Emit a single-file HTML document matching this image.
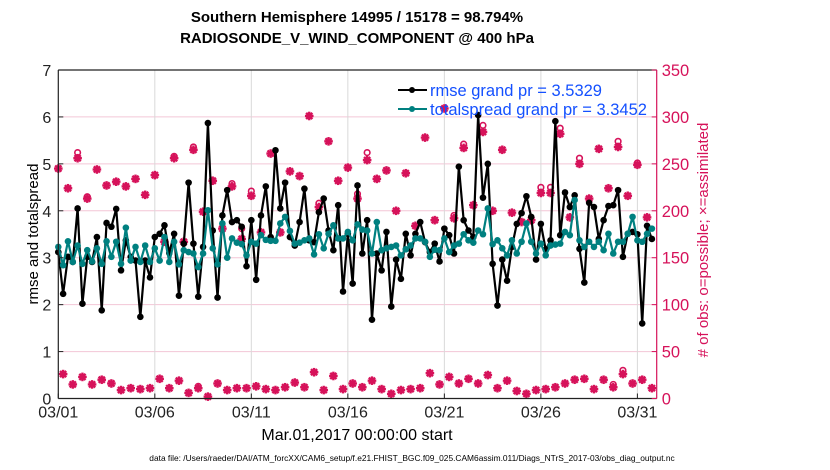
<!DOCTYPE html>
<html><head><meta charset="utf-8">
<style>
body{margin:0;background:#fff;width:830px;height:470px;overflow:hidden;font-family:"Liberation Sans",Arial,sans-serif}
svg{display:block}
</style></head>
<body>
<svg id="chart" width="830" height="470" xmlns="http://www.w3.org/2000/svg">
<rect x="0" y="0" width="830" height="470" fill="#fff"/>
<text x="357" y="22" text-anchor="middle" font-size="15" font-weight="bold">Southern Hemisphere 14995 / 15178 = 98.794%</text>
<text x="357" y="43" text-anchor="middle" font-size="15" font-weight="bold">RADIOSONDE_V_WIND_COMPONENT @ 400 hPa</text>
<g id="grid"></g>
<g id="obs"></g>
<g id="lines"></g>
<g id="axes"></g>
<g>
<line x1="398" y1="90" x2="427" y2="90" stroke="#000" stroke-width="2"/>
<circle cx="412" cy="90" r="3" fill="#000"/>
<text x="430" y="96" font-size="16.5" fill="#1450ff">rmse grand pr = 3.5329</text>
<line x1="398" y1="109" x2="427" y2="109" stroke="#008080" stroke-width="2"/>
<circle cx="412" cy="109" r="3" fill="#008080"/>
<text x="430" y="115" font-size="16.5" fill="#1450ff">totalspread grand pr = 3.3452</text>
</g>
<text transform="translate(38,234) rotate(-90)" text-anchor="middle" font-size="15">rmse and totalspread</text>
<text transform="translate(708,240) rotate(-90)" text-anchor="middle" font-size="15" fill="#d6125a"># of obs: o=possible; ×=assimilated</text>
<text x="357" y="440" text-anchor="middle" font-size="16">Mar.01,2017 00:00:00 start</text>
<text x="412" y="461" text-anchor="middle" font-size="8.4">data file: /Users/raeder/DAI/ATM_forcXX/CAM6_setup/f.e21.FHIST_BGC.f09_025.CAM6assim.011/Diags_NTrS_2017-03/obs_diag_output.nc</text>
</svg>
<script>
const rmse=[3.12,2.23,3.02,2.91,4.05,2.02,3.02,2.91,3.44,1.88,3.74,3.66,4.04,2.73,3.37,3.02,2.94,1.74,2.94,2.58,3.44,3.51,3.69,3.1,3.51,2.19,3.30,4.6,3.30,2.17,3.23,5.87,3.58,2.15,3.90,4.44,3.76,3.80,3.66,2.82,3.80,2.53,3.90,4.52,3.44,5.29,4.05,4.60,3.44,3.26,3.76,4.47,3.37,3.33,3.97,4.26,3.58,3.16,4.12,2.28,3.51,2.45,4.54,3.09,3.80,1.68,3.09,2.73,3.55,1.96,2.96,2.55,3.51,3.05,3.51,3.76,3.33,3.12,3.30,2.92,3.62,3.48,3.09,4.94,3.80,3.58,3.44,6.04,4.28,5.0,2.87,1.98,2.96,2.51,3.23,3.72,3.95,4.31,3.87,2.96,3.72,3.17,3.37,5.91,3.48,4.39,4.08,4.33,3.19,2.47,4.17,4.08,3.40,3.80,4.10,4.12,4.44,3.02,3.51,3.55,3.5,1.6,3.68,3.40];
const spread=[3.23,2.84,3.35,2.91,3.26,2.87,3.16,2.92,3.20,2.87,3.35,3.02,3.34,2.87,3.64,2.94,3.23,2.91,3.26,2.91,3.20,2.94,3.44,2.91,3.34,2.86,3.16,3.12,3.09,2.80,3.09,4.01,3.20,2.86,3.73,3.0,3.41,3.32,3.29,3.05,3.34,3.30,3.48,3.38,3.36,3.36,3.73,3.87,3.57,3.30,3.32,3.37,3.41,3.07,3.50,3.20,3.51,3.69,3.41,3.41,3.55,3.37,3.71,3.6,3.58,3.09,3.76,3.16,3.20,3.23,3.26,3.05,3.18,3.26,3.41,3.41,3.34,3.02,3.17,3.16,3.41,3.12,3.26,3.30,3.50,3.37,3.32,3.58,3.50,4.05,3.29,3.37,3.20,3.05,3.37,3.09,3.34,3.73,3.34,3.09,3.30,3.05,3.26,3.28,3.30,3.55,3.48,4.23,3.37,3.23,3.34,3.23,3.34,3.16,3.51,3.09,3.34,3.34,3.51,3.87,3.37,3.34,3.51,3.62];
// obs counts at 00Z/12Z (even 6-hourly index) and 06Z/18Z (odd index)
const assimHigh=[245,224,256,213,244,227,231,226,234,217,238,167,256,167,265,199,232,181,226,170,216,177,261,177,242,237,301,204,274,232,246,213,254,234,243,200,240,184,278,190,309,192,267,206,284,200,265,198,188,190,219,219,282,193,250,213,266,224,268,216,249,193];
const possHigh=[245,224,262,215,244,227,231,226,234,217,238,167,258,167,268,199,232,181,229,181,221,177,261,177,242,237,301,208,274,232,246,218,262,234,243,200,240,184,278,190,309,195,271,206,291,200,265,198,188,190,225,225,288,193,256,213,266,224,274,216,251,193];
const assimLow=[26,15,23,15,20,16,9,11,10,11,21,11,19,6,11,2,16,9,11,11,13,10,9,12,17,12,28,9,24,10,16,12,19,10,5,9,10,11,27,15,23,16,21,16,25,11,19,8,5,9,10,12,16,20,21,10,20,12,26,16,20,11];
const possLow=[26,15,23,15,20,16,9,11,10,11,21,11,19,6,13,2,16,9,11,11,13,10,9,12,17,12,28,9,24,10,16,12,19,10,5,9,10,11,27,15,23,16,21,16,25,11,19,8,5,9,10,12,16,20,21,10,20,15,30,16,20,11];
const xTickLabels=["03/01","03/06","03/11","03/16","03/21","03/26","03/31"];
const xTickDays=[0,5,10,15,20,25,30];
const yTickLeft=[0,1,2,3,4,5,6,7];
const yTickRight=[0,50,100,150,200,250,300,350];

const X0=58.3,X1=656.7,Y0=398.5,Y1=70;
const DAYS=31;
const xDay=d=>X0+(X1-X0)*d/DAYS;
const xIdx=i=>xDay(i*0.25);
const yL=v=>Y0-(Y0-Y1)*v/7;
const yR=v=>Y0-(Y0-Y1)*v/350;
const NS="http://www.w3.org/2000/svg";
function mk(tag,attrs,parent){const e=document.createElementNS(NS,tag);for(const k in attrs)e.setAttribute(k,attrs[k]);parent.appendChild(e);return e;}
const grid=document.getElementById('grid'),axes=document.getElementById('axes'),obs=document.getElementById('obs'),lines=document.getElementById('lines');
const pink="#d6125a";

yTickLeft.forEach(v=>{if(v>0&&v<7){const l=mk('line',{x1:X0,x2:X1,y1:yL(v),y2:yL(v),stroke:"#f3c6d6","stroke-width":1},grid);

}});
xTickDays.forEach(d=>{if(d>0){const l=mk('line',{x1:xDay(d),x2:xDay(d),y1:Y1,y2:Y0,stroke:"#d9d9d9","stroke-width":1},grid);

}});

function star(cx,cy,g){const s=4.3;
 mk('line',{x1:cx-s,y1:cy,x2:cx+s,y2:cy},g);mk('line',{x1:cx,y1:cy-s,x2:cx,y2:cy+s},g);
 mk('line',{x1:cx-s*0.72,y1:cy-s*0.72,x2:cx+s*0.72,y2:cy+s*0.72},g);mk('line',{x1:cx-s*0.72,y1:cy+s*0.72,x2:cx+s*0.72,y2:cy-s*0.72},g);
 mk('circle',{cx:cx,cy:cy,r:3,fill:pink,stroke:"none"},g);}
function obsPoint(i,a,p){
 const g=mk('g',{stroke:pink,"stroke-width":2.4,fill:"none"},obs);
 
 
 if(p!==a) mk('circle',{cx:xIdx(i),cy:yR(p),r:2.8,"stroke-width":1.6},g);
 star(xIdx(i),yR(a),g);}
assimHigh.forEach((a,k)=>obsPoint(2*k,a,possHigh[k]));
assimLow.forEach((a,k)=>obsPoint(2*k+1,a,possLow[k]));

function series(arr,color,name){
 const p=mk('polyline',{points:arr.map((v,i)=>xIdx(i)+","+yL(v)).join(" "),fill:"none",stroke:color,"stroke-width":2.2,"stroke-linejoin":"round"},lines);
 
 
 arr.forEach((v,i)=>{const c=mk('circle',{cx:xIdx(i),cy:yL(v),r:3.3,fill:color},lines);
 
 });}
series(rmse,"#000","rmse");
series(spread,"#008080","totalspread");

let a=mk('line',{x1:X0,y1:Y1,x2:X0,y2:Y0,stroke:"#222","stroke-width":1.2},axes);


a=mk('line',{x1:X0,y1:Y0,x2:X1,y2:Y0,stroke:"#222","stroke-width":1.2},axes);


a=mk('line',{x1:X0,y1:Y1,x2:X1,y2:Y1,stroke:"#222","stroke-width":1.2},axes);


a=mk('line',{x1:X1,y1:Y1,x2:X1,y2:Y0,stroke:pink,"stroke-width":1.2},axes);


yTickLeft.forEach(v=>{mk('line',{x1:X0,x2:X0+5,y1:yL(v),y2:yL(v),stroke:"#222"},axes);
 const t=mk('text',{x:X0-7,y:yL(v)+6,"text-anchor":"end","font-size":16,fill:"#222"},axes);t.textContent=v;
 
 });
yTickRight.forEach(v=>{mk('line',{x1:X1-5,x2:X1,y1:yR(v),y2:yR(v),stroke:pink},axes);
 const t=mk('text',{x:X1+5,y:yR(v)+6,"font-size":16.5,fill:pink},axes);t.textContent=v;
 
 });
xTickDays.forEach((d,k)=>{mk('line',{x1:xDay(d),x2:xDay(d),y1:Y0,y2:Y0-5,stroke:"#222"},axes);
 const t=mk('text',{x:xDay(d),y:Y0+19,"text-anchor":"middle","font-size":16,fill:"#222"},axes);t.textContent=xTickLabels[k];
 
 });
</script>
</body></html>
